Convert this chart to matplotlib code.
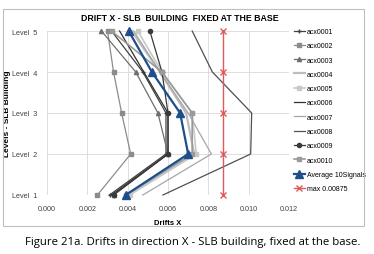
import numpy as np
import matplotlib.pyplot as plt
from matplotlib.patches import Rectangle

plt.rcParams["font.family"] = ["Liberation Sans", "DejaVu Sans"]

# drift values (x1e-3) at levels 1..5
levels = [1, 2, 3, 4, 5]
level_labels = ["Level  1", "Level  2", "Level  3", "Level  4", "Level  5"]
acx0001 = [3.1, 5.9, 5.9, 4.75, 3.2]
acx0002 = [2.5, 4.15, 3.7, 3.3, 3.0]
acx0003 = [3.3, 6.0, 5.5, 4.4, 2.7]
acx0004 = [4.0, 7.3, 6.9, 5.6, 4.2]
acx0005 = [4.1, 7.4, 7.2, 5.7, 4.5]
acx0006 = [3.2, 6.0, 6.0, 4.8, 3.6]
acx0007 = [4.75, 8.15, 7.0, 5.6, 4.3]
acx0008 = [5.75, 10.1, 10.15, 8.2, 7.2]
acx0009 = [3.3, 6.0, 6.0, 5.7, 5.1]
acx0010 = [3.9, 7.2, 7.2, 5.7, 3.2]
average = [3.9, 7.0, 6.6, 5.2, 4.05]
max_drift = [8.75, 8.75, 8.75, 8.75, 8.75]

series = [
    ("acx0001", acx0001, "#404040", "+", 0.9),
    ("acx0002", acx0002, "#8c8c8c", "s", 0.9),
    ("acx0003", acx0003, "#6e6e6e", "^", 0.9),
    ("acx0004", acx0004, "#bdbdbd", None, 1.6),
    ("acx0005", acx0005, "#c8c8c8", "s", 1.2),
    ("acx0006", acx0006, "#303030", None, 0.9),
    ("acx0007", acx0007, "#a6a6a6", None, 0.9),
    ("acx0008", acx0008, "#505050", None, 0.9),
    ("acx0009", acx0009, "#3a3a3a", "o", 0.9),
    ("acx0010", acx0010, "#9a9a9a", "s", 1.2),
]

fig = plt.figure(figsize=(3.74, 2.55), dpi=100)
fig.patches.append(Rectangle((3 / 374, 1 - 227 / 255), 361 / 374, 217 / 255,
                             transform=fig.transFigure, fill=False,
                             edgecolor="#bfbfbf", linewidth=0.8))
ax = fig.add_axes([0.1257, 0.2314, 0.6470, 0.6431])

for name, vals, col, mk, lw in series:
    ax.plot(np.array(vals) / 1000, levels, color=col, lw=lw, marker=mk,
            markersize=3, label=name, clip_on=False)
ax.plot(np.array(average) / 1000, levels, color="#1f4e8c", lw=1.6, marker="^",
        markersize=5.5, label="Average 10Signals", clip_on=False)
ax.plot(np.array(max_drift) / 1000, levels, color="#e05a5a", lw=1.0, marker="x",
        markersize=4, label="max 0.00875", clip_on=False)

ax.set_xlim(0, 0.012)
ax.set_ylim(1, 5)
ax.set_xticks(np.arange(0, 0.0121, 0.002))
ax.set_xticklabels([f"{v:.3f}" for v in np.arange(0, 0.0121, 0.002)])
ax.set_yticks(levels)
ax.set_yticklabels(level_labels)
ax.tick_params(length=0, labelsize=5.2, colors="#404040", pad=7)
ax.grid(color="#d9d9d9", lw=0.6)
ax.set_axisbelow(True)
for s in ax.spines.values():
    s.set_visible(False)

ax.set_xlabel("Drifts X", fontsize=5.5, fontweight="bold")
ax.xaxis.set_label_coords(0.5, -0.145)
ax.set_ylabel("Levels - SLB Building", fontsize=6, fontweight="bold")
ax.yaxis.set_label_coords(-0.15, 0.5)
ax.set_title("DRIFT X - SLB  BUILDING  FIXED AT THE BASE", fontsize=6.3,
             fontweight="bold", pad=8, x=0.55)

ax.legend(loc="upper left", bbox_to_anchor=(1.01, 1.035), frameon=False,
          fontsize=5, handlelength=1.5, handletextpad=0.3, labelspacing=1.05,
          borderaxespad=0)

fig.text(0.515, 1 - 243 / 255, "Figure 21a. Drifts in direction X - SLB building, fixed at the base.",
         ha="center", va="center", fontsize=8.2, family=["Open Sans"])

fig.savefig("out.png", dpi=100)
